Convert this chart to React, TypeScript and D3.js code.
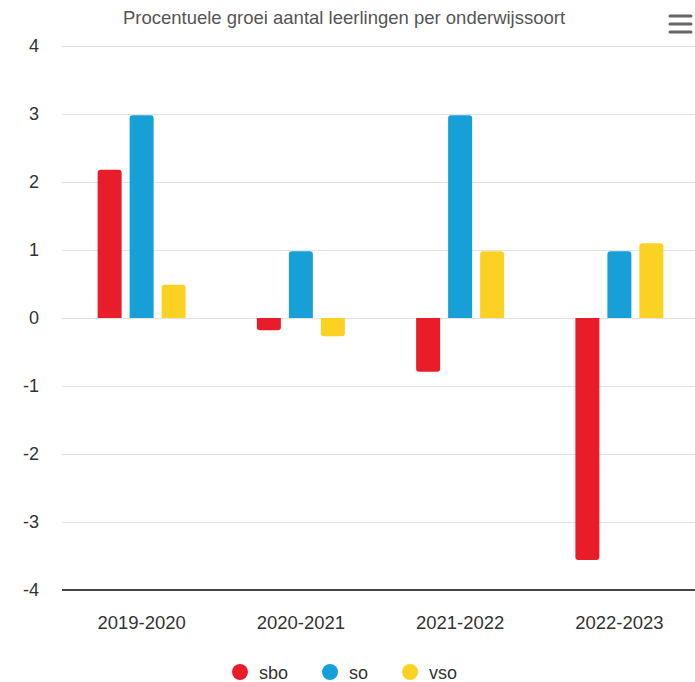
import React, { useRef, useEffect } from "react";
import * as d3 from "d3";

const years = ["2019-2020", "2020-2021", "2021-2022", "2022-2023"];
const seriesNames = ["sbo", "so", "vso"];
const sbo = [2.18, -0.18, -0.79, -3.56];
const so = [2.98, 0.98, 2.98, 0.98];
const vso = [0.49, -0.27, 0.98, 1.1];
const yTicks = [4, 3, 2, 1, 0, -1, -2, -3, -4];
const colors = ["#e91d2a", "#179fd7", "#fbd224"];

const FONT = "'Liberation Sans', Arial, Helvetica, sans-serif";

const App = () => {
  const svgRef = useRef<SVGSVGElement>(null);

  useEffect(() => {
    const width = 695;
    const height = 682;
    const margin = { top: 46, right: -4, bottom: 92, left: 62 };

    const svg = d3.select(svgRef.current);
    svg.selectAll("*").remove();
    svg.attr("width", width).attr("height", height);

    const x = d3
      .scaleBand()
      .domain(years)
      .range([margin.left, width - margin.right]);

    const inner = d3
      .scaleBand()
      .domain(seriesNames)
      .range([-44, 44])
      .paddingInner(0.25);

    const y = d3
      .scaleLinear()
      .domain([-4, 4])
      .range([height - margin.bottom, margin.top]);

    // title
    svg
      .append("text")
      .attr("x", 344)
      .attr("y", 24)
      .attr("text-anchor", "middle")
      .attr("font-family", FONT)
      .attr("font-size", 18.5)
      .attr("fill", "#555")
      .text("Procentuele groei aantal leerlingen per onderwijssoort");

    // hamburger
    [16, 24, 32].forEach((yy) => {
      svg
        .append("line")
        .attr("x1", 670)
        .attr("x2", 691)
        .attr("y1", yy)
        .attr("y2", yy)
        .attr("stroke", "#666")
        .attr("stroke-width", 3)
        .attr("stroke-linecap", "round");
    });

    // grid
    svg
      .append("g")
      .selectAll("line")
      .data(yTicks.filter((t) => t !== -4))
      .enter()
      .append("line")
      .attr("x1", margin.left)
      .attr("x2", width)
      .attr("y1", (d) => Math.round(y(d)) + 0.5)
      .attr("y2", (d) => Math.round(y(d)) + 0.5)
      .attr("stroke", "#e3e3e3")
      .attr("stroke-width", 1);

    // y labels
    svg
      .append("g")
      .selectAll("text")
      .data(yTicks)
      .enter()
      .append("text")
      .attr("x", 39)
      .attr("y", (d) => y(d))
      .attr("dy", "0.36em")
      .attr("text-anchor", "end")
      .attr("font-family", FONT)
      .attr("font-size", 18)
      .attr("fill", "#333")
      .text((d) => d);

    // bars
    const values = [sbo, so, vso];
    const r = 3;
    const barPath = (x0: number, w: number, v: number) => {
      const y0 = y(0);
      const y1 = y(v);
      if (v >= 0) {
        return `M${x0},${y0}V${y1 + r}Q${x0},${y1} ${x0 + r},${y1}H${x0 + w - r}Q${x0 + w},${y1} ${x0 + w},${y1 + r}V${y0}Z`;
      }
      return `M${x0},${y0}V${y1 - r}Q${x0},${y1} ${x0 + r},${y1}H${x0 + w - r}Q${x0 + w},${y1} ${x0 + w},${y1 - r}V${y0}Z`;
    };

    seriesNames.forEach((s, si) => {
      svg
        .append("g")
        .selectAll("path")
        .data(years)
        .enter()
        .append("path")
        .attr("d", (d, i) =>
          barPath(
            (x(d) as number) + x.bandwidth() / 2 + (inner(s) as number),
            inner.bandwidth(),
            values[si][i]
          )
        )
        .attr("fill", colors[si]);
    });

    // bottom axis line
    svg
      .append("line")
      .attr("x1", margin.left)
      .attr("x2", width)
      .attr("y1", y(-4))
      .attr("y2", y(-4))
      .attr("stroke", "#444")
      .attr("stroke-width", 2);

    // x labels
    svg
      .append("g")
      .selectAll("text")
      .data(years)
      .enter()
      .append("text")
      .attr("x", (d) => (x(d) as number) + x.bandwidth() / 2)
      .attr("y", 629)
      .attr("text-anchor", "middle")
      .attr("font-family", FONT)
      .attr("font-size", 18.5)
      .attr("fill", "#333")
      .text((d) => d);

    // legend
    const legend = svg.append("g");
    let lx = 240;
    seriesNames.forEach((s, i) => {
      legend
        .append("circle")
        .attr("cx", lx)
        .attr("cy", 672)
        .attr("r", 8)
        .attr("fill", colors[i]);
      const t = legend
        .append("text")
        .attr("x", lx + 19)
        .attr("y", 679)
        .attr("font-family", FONT)
        .attr("font-size", 18)
        .attr("fill", "#333")
        .text(s);
      const tw = (t.node() as SVGTextElement).getComputedTextLength();
      lx += 19 + tw + 42;
    });
  }, []);

  return (
    <div style={{ position: "absolute", left: 0, top: 0 }}>
      <svg ref={svgRef} style={{ display: "block" }}></svg>
    </div>
  );
};

export default App;
